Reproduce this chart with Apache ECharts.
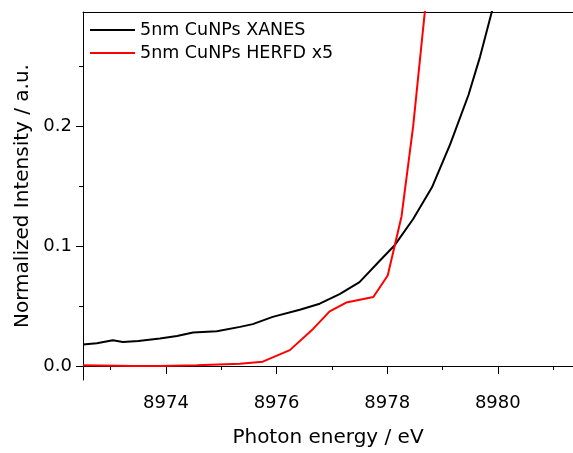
<!DOCTYPE html>
<html>
<head>
<meta charset="utf-8">
<style>
    html, body { margin: 0; padding: 0; background: #fff; }
    #chart { width: 573px; height: 453px; }
</style>
<script src="https://cdn.jsdelivr.net/npm/echarts@6/dist/echarts.min.js"></script>
</head>
<body>
<div id="chart"></div>
<script>
    // photon energy (eV) and normalized intensity
    var xanesEnergy = [8972.50, 8972.75, 8973.04, 8973.22, 8973.50, 8973.89, 8974.20, 8974.49, 8974.92,
        8975.34, 8975.57, 8975.93, 8976.42, 8976.78, 8977.14, 8977.50, 8977.87, 8978.14, 8978.47,
        8978.81, 8979.14, 8979.47, 8979.68, 8979.89, 8980.05];
    var xanesValue = [0.018, 0.019, 0.0216, 0.020, 0.021, 0.023, 0.025, 0.028, 0.029,
        0.0327, 0.035, 0.041, 0.047, 0.052, 0.060, 0.070, 0.088, 0.101, 0.1226,
        0.149, 0.185, 0.226, 0.258, 0.295, 0.33];

    var herfdEnergy = [8972.50, 8973.40, 8973.89, 8974.56, 8975.34, 8975.75, 8976.24, 8976.66, 8976.96,
        8977.26, 8977.75, 8978.01, 8978.26, 8978.47, 8978.68, 8978.77];
    var herfdValue = [0.0006, 0.0, 0.0, 0.0006, 0.002, 0.0037, 0.0133, 0.031, 0.0456,
        0.053, 0.0576, 0.0755, 0.125, 0.200, 0.295, 0.33];

    var xMajorTicks = [8974, 8976, 8978, 8980];
    var xMinorTicks = [8973, 8975, 8977, 8979, 8981];
    var yMajorTicks = [0, 0.1, 0.2];
    var yMinorTicks = [0.05, 0.15, 0.25];

    var xMin = 8972.5, xMax = 8981.36;
    var yMin = -0.0116, yMax = 0.2952;

    var font = 'DejaVu Sans';

    function pairs(xs, ys) {
        return xs.map(function (x, i) { return [x, ys[i]]; });
    }

    var chart = echarts.init(document.getElementById('chart'));
    var option = {
        animation: false,
        backgroundColor: '#fff',
        textStyle: {fontFamily: font},
        grid: {left: 83, right: 0, top: 12, bottom: 71, containLabel: false},
        legend: {
            orient: 'vertical',
            left: 85,
            top: 16,
            icon: 'rect',
            itemWidth: 45,
            itemHeight: 2,
            itemGap: 5,
            textStyle: {fontFamily: font, fontSize: 17.5, color: '#000'},
            data: ['5nm CuNPs XANES', '5nm CuNPs HERFD x5']
        },
        xAxis: [
            {
                type: 'value',
                position: 'bottom',
                min: xMin,
                max: xMax,
                name: 'Photon energy / eV',
                nameLocation: 'middle',
                nameGap: 48,
                nameTextStyle: {fontFamily: font, fontSize: 20, color: '#000'},
                splitLine: {show: false},
                axisLine: {show: true, lineStyle: {color: '#000', width: 1}},
                axisTick: {show: true, inside: false, length: 8, customValues: xMajorTicks,
                    lineStyle: {color: '#000'}},
                axisLabel: {show: true, margin: 14, fontSize: 18, color: '#000', fontFamily: font,
                    customValues: xMajorTicks,
                    formatter: function (v) { return v.toFixed(0); }}
            },
            {
                type: 'value',
                position: 'bottom',
                min: xMin,
                max: xMax,
                splitLine: {show: false},
                axisLine: {show: false},
                axisTick: {show: true, inside: false, length: 4, customValues: xMinorTicks,
                    lineStyle: {color: '#000'}},
                axisLabel: {show: false}
            },
            {
                type: 'value',
                position: 'top',
                min: xMin,
                max: xMax,
                splitLine: {show: false},
                axisLine: {show: true, lineStyle: {color: '#000', width: 1}},
                axisTick: {show: false},
                axisLabel: {show: false}
            }
        ],
        yAxis: [
            {
                type: 'value',
                position: 'left',
                min: yMin,
                max: yMax,
                name: 'Normalized Intensity / a.u.',
                nameLocation: 'middle',
                nameGap: 50,
                nameTextStyle: {fontFamily: font, fontSize: 20, color: '#000'},
                splitLine: {show: false},
                axisLine: {show: true, lineStyle: {color: '#000', width: 1}},
                axisTick: {show: true, inside: false, length: 7, customValues: yMajorTicks,
                    lineStyle: {color: '#000'}},
                axisLabel: {show: true, margin: 11, fontSize: 18, color: '#000', fontFamily: font,
                    customValues: yMajorTicks,
                    formatter: function (v) { return v.toFixed(1); }}
            },
            {
                type: 'value',
                position: 'left',
                min: yMin,
                max: yMax,
                splitLine: {show: false},
                axisLine: {show: false},
                axisTick: {show: true, inside: false, length: 4, customValues: yMinorTicks,
                    lineStyle: {color: '#000'}},
                axisLabel: {show: false}
            }
        ],
        series: [
            {
                name: '5nm CuNPs XANES',
                type: 'line',
                xAxisIndex: 0,
                yAxisIndex: 0,
                symbol: 'none',
                clip: true,
                color: '#000000',
                lineStyle: {color: '#000000', width: 2},
                data: pairs(xanesEnergy, xanesValue)
            },
            {
                name: '5nm CuNPs HERFD x5',
                type: 'line',
                xAxisIndex: 0,
                yAxisIndex: 0,
                symbol: 'none',
                clip: true,
                color: '#ff0000',
                lineStyle: {color: '#ff0000', width: 2},
                data: pairs(herfdEnergy, herfdValue)
            }
        ]
    };
    chart.setOption(option, true);
</script>
</body>
</html>
